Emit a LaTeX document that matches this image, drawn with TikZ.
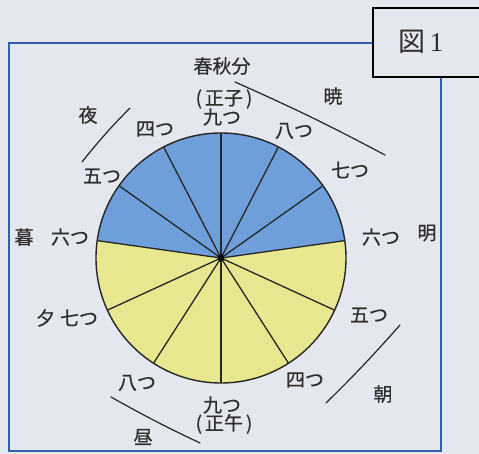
\documentclass[tikz,border=0pt]{standalone}
\usepackage{fontspec}
\setmainfont{Liberation Serif}
\newfontfamily\cjk[FakeBold=0.6]{Noto Sans CJK JP}
\newfontfamily\cjkplain{Noto Sans CJK JP}
\definecolor{paper}{HTML}{E5E7EF}
\definecolor{skyf}{HTML}{6F9FDB}
\definecolor{limef}{HTML}{E6E78F}
\definecolor{framec}{HTML}{2F60A8}
\definecolor{inkc}{HTML}{2E2E2E}
\tikzset{
  lab/.style={text=inkc, font=\cjk\fontsize{19}{19}\selectfont, inner sep=0pt},
  stroke/.style={draw=inkc!80!black, line width=1.2pt, line cap=round},
  spoke/.style={draw=black!85, line width=1.3pt},
}
\begin{document}
\begin{tikzpicture}[x=1pt,y=-1pt]
\fill[paper] (0,0) rectangle (479,454);
\useasboundingbox (0,0) rectangle (479,454);
% frame
\draw[framec, line width=1.5pt] (9,43) rectangle (441,451);
% circle
\begin{scope}[shift={(221,258)}, x=1pt, y=1pt]
  \fill[skyf] (0,0) -- (8:125) arc (8:172:125) -- cycle;
  \fill[limef] (0,0) -- (172:125) arc (172:368:125) -- cycle;
  \foreach \a in {8,35.333,62.667,90,117.333,144.667,172}
    \draw[spoke] (0,0) -- (\a:125);
  \foreach \i in {1,...,5}
    \draw[spoke] (0,0) -- ({172+\i*196/6}:125);
  \draw[black!85, line width=1.4pt] (0,0) circle (125);
  \fill[black] (0,0) circle (3.4);
\end{scope}
% title box
\draw[black, line width=1.2pt, fill=paper] (373,8) rectangle (495,77);
\node[text=inkc, inner sep=0pt, font=\fontsize{27}{28}\selectfont] (fig) at (421,42) {{\cjkplain 図}\kern4pt1};
% labels
\node[lab] (shunbun) at (222,66) {春秋分};
\node[lab] (shoshi) at (224,99) {(\kern3pt正子\kern3pt)};
\node[lab] (n9top) at (222,117) {九つ};
\node[lab] (n4top) at (155,129) {四つ};
\node[lab] (n8top) at (294,131) {八つ};
\node[lab] (yoru) at (88,115) {夜};
\node[lab] (akatsuki) at (333,96) {暁};
\node[lab] (n5l) at (102,176) {五つ};
\node[lab] (n7r) at (350,170) {七つ};
\node[lab] (kure) at (24,237) {暮};
\node[lab] (n6l) at (70,237) {六つ};
\node[lab] (n6r) at (381,237) {六つ};
\node[lab] (ake) at (427,233) {明};
\node[lab] (n7l) at (67,318) {夕\kern5pt七つ};
\node[lab] (n5r) at (369,315) {五つ};
\node[lab] (n8b) at (137,383) {八つ};
\node[lab] (n4b) at (305,380) {四つ};
\node[lab] (n9b) at (222,405) {九つ};
\node[lab] (shogo) at (224,424) {(\kern3pt正午\kern3pt)};
\node[lab] (asa) at (383,394) {朝};
\node[lab] (hiru) at (143,437) {昼};
% bracket strokes
\coordinate (ya) at (130,108);
\coordinate (yb) at (82,162);
\coordinate (aa) at (235,82);
\coordinate (ab) at (385,155);
\coordinate (sa) at (400,325);
\coordinate (sb) at (326,403);
\coordinate (ha) at (111,397);
\coordinate (hb) at (200,443);
\draw[stroke] (ya) to[bend right=3] (yb);
\draw[stroke] (aa) to[bend left=2] (ab);
\draw[stroke] (sa) to[bend left=2] (sb);
\draw[stroke] (ha) to[bend right=2] (hb);
\end{tikzpicture}
\end{document}
